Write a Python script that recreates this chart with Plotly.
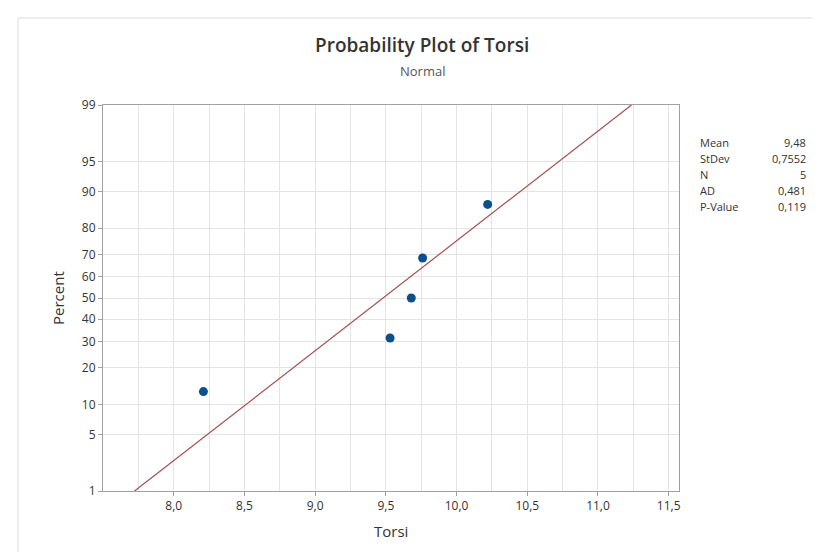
import plotly.graph_objects as go
from statistics import NormalDist

# ---- data ----
torsi_values = [8.21, 9.53, 9.68, 9.76, 10.22]
percent_values = [12.96, 31.48, 50.0, 68.52, 87.04]
fit_percent = [1, 99]
fit_torsi = [7.723, 11.237]

x_tick_vals = [8.0, 8.5, 9.0, 9.5, 10.0, 10.5, 11.0, 11.5]
x_tick_labels = ["8,0", "8,5", "9,0", "9,5", "10,0", "10,5", "11,0", "11,5"]
y_tick_percent = [1, 5, 10, 20, 30, 40, 50, 60, 70, 80, 90, 95, 99]
y_tick_labels = ["1", "5", "10", "20", "30", "40", "50", "60", "70", "80", "90", "95", "99"]

stat_names = ["Mean", "StDev", "N", "AD", "P-Value"]
stat_values = ["9,48", "0,7552", "5", "0,481", "0,119"]

# ---- normal probability scale ----
nd = NormalDist()


def zscore(p):
    return nd.inv_cdf(p / 100.0)


W, H = 821, 552
L, R, T, B = 95, 150, 97, 69
PW, PH = W - L - R, H - T - B


def px_x(px):
    return (px - L) / PW


def px_y(py):
    return (H - B - py) / PH


FONT = "Open Sans, Noto Sans, sans-serif"
TXT = "#333333"

fig = go.Figure()

fig.add_trace(go.Scatter(
    x=fit_torsi, y=[zscore(p) for p in fit_percent],
    mode="lines", line=dict(color="#a3504c", width=1.2),
    hoverinfo="skip", showlegend=False,
))
fig.add_trace(go.Scatter(
    x=torsi_values, y=[zscore(p) for p in percent_values],
    mode="markers", marker=dict(color="#0d4f8b", size=9),
    showlegend=False,
))

fig.update_xaxes(
    range=[7.5, 11.573],
    tickvals=x_tick_vals, ticktext=x_tick_labels,
    showgrid=True, gridcolor="#e4e4e4", gridwidth=1,
    minor=dict(dtick=0.25, tick0=7.5, showgrid=True, gridcolor="#e4e4e4", ticks=""),
    showline=True, linecolor="#a0a0a0", linewidth=1, mirror=True,
    ticks="outside", ticklen=4, tickcolor="#a0a0a0",
    zeroline=False,
    tickfont=dict(family=FONT, size=12, color=TXT),
)
fig.update_yaxes(
    range=[zscore(1), zscore(99)],
    tickvals=[zscore(p) for p in y_tick_percent], ticktext=y_tick_labels,
    showgrid=True, gridcolor="#e4e4e4", gridwidth=1,
    showline=True, linecolor="#a0a0a0", linewidth=1, mirror=True,
    ticks="outside", ticklen=4, tickcolor="#a0a0a0",
    zeroline=False,
    tickfont=dict(family=FONT, size=12, color=TXT),
)

ann = []
ann.append(dict(text="Probability Plot of Torsi", x=px_x(414), y=px_y(37),
                xref="paper", yref="paper", showarrow=False,
                xanchor="center", yanchor="middle",
                font=dict(family=FONT, size=19, color="#333333", weight=600)))
ann.append(dict(text="Normal", x=px_x(414), y=px_y(63),
                xref="paper", yref="paper", showarrow=False,
                xanchor="center", yanchor="middle",
                font=dict(family=FONT, size=13, color="#555555")))
ann.append(dict(text="Torsi", x=0.5, y=px_y(523),
                xref="paper", yref="paper", showarrow=False,
                xanchor="center", yanchor="middle",
                font=dict(family=FONT, size=15, color="#333333")))
ann.append(dict(text="Percent", x=px_x(50), y=0.5, textangle=-90,
                xref="paper", yref="paper", showarrow=False,
                xanchor="center", yanchor="middle",
                font=dict(family=FONT, size=15, color="#333333")))

row_y0, row_dy = 134, 16
for i, (nm, val) in enumerate(zip(stat_names, stat_values)):
    yy = px_y(row_y0 + i * row_dy)
    ann.append(dict(text=nm, x=px_x(690), y=yy, xref="paper", yref="paper",
                    showarrow=False, xanchor="left", yanchor="middle",
                    font=dict(family=FONT, size=11, color=TXT)))
    ann.append(dict(text=val, x=px_x(800), y=yy, xref="paper", yref="paper",
                    showarrow=False, xanchor="right", yanchor="middle",
                    font=dict(family=FONT, size=11, color=TXT)))

fig.update_layout(
    width=W, height=H, autosize=False,
    margin=dict(l=L, r=R, t=T, b=B, pad=0),
    paper_bgcolor="white", plot_bgcolor="white",
    annotations=ann,
    shapes=[dict(type="rect", xref="paper", yref="paper",
                 x0=px_x(10), x1=px_x(812), y0=px_y(546), y1=px_y(10),
                 line=dict(color="#dcdcdc", width=1), fillcolor="rgba(0,0,0,0)",
                 layer="below")],
    showlegend=False,
)

fig.write_html("out.html")
